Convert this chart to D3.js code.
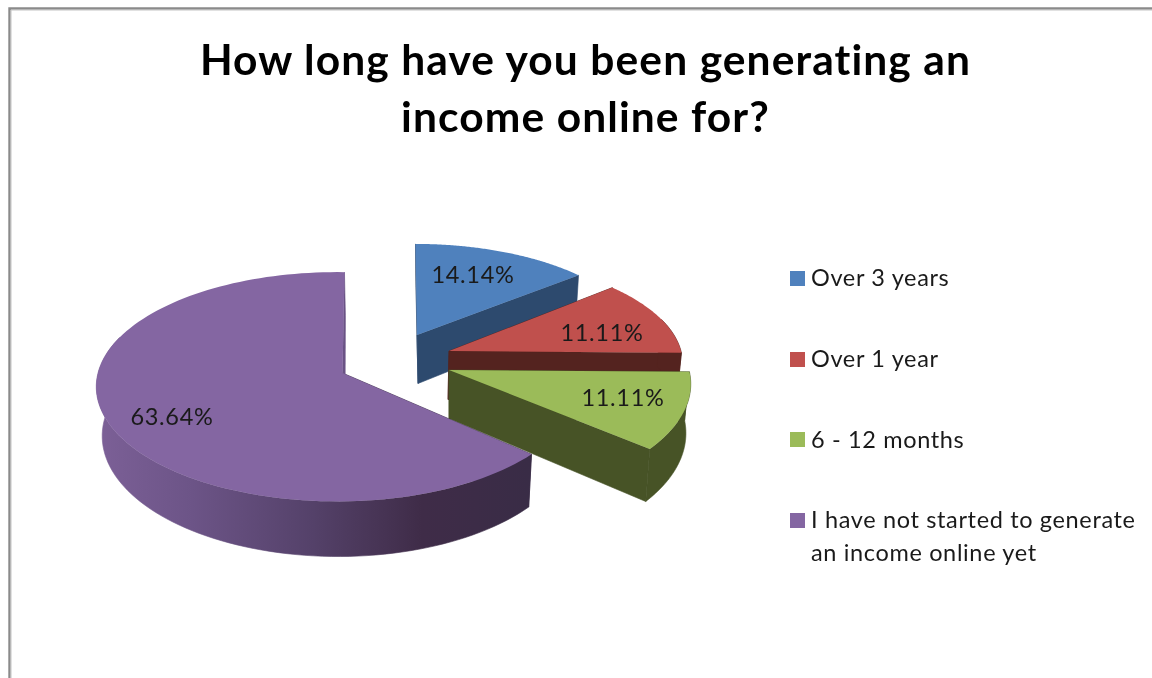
<!DOCTYPE html>
<html><head><meta charset="utf-8">
<script src="https://d3js.org/d3.v7.min.js"></script>
<style>html,body{margin:0;padding:0;background:#fff}svg{display:block;filter:blur(0.45px)}text{font-family:Lato,"Open Sans",sans-serif;font-variant-ligatures:none}</style>
</head><body><svg id="c" width="1152" height="678"></svg>
<script>
const titleLines = ["How long have you been generating an", "income online for?"];
const categories = ["Over 3 years", "Over 1 year", "6 - 12 months", "I have not started to generate\nan income online yet"];
const shares = [14.14, 11.11, 11.11, 63.64];
const shareLabels = ["14.14%", "11.11%", "11.11%", "63.64%"];

const topColors = ["#4f81bd", "#c0504d", "#9bbb59", "#8466a2"];
const wallColors = ["#2d4a6e", "#54231f", "#475326", "#3a2c48"];
const tips = [[417,335],[449,351],[449,370],[342.5,373]];
const rx = [226,232,240,239], ry = [102,105,115,113];
const rimDx = [-1.5,0,0,-5.5];
const rimRotStart = [0,-1.5,0,0.6], rimRotEnd = [0,0,-1.5,2];
const tipWallDx = [1,-1,0,2.5];
const labelPos = [[473,283],[602,341],[623,406],[172,425]];
const legendSwatchY = [271,352,432,513];
const legendBaseY = [286,367,448,528];
const k = 0.12, depth = 48.5;

const svg = d3.select("#c");
const rad = Math.PI/180;
const pieGen = d3.pie().sort(null).startAngle(0).endAngle(2*Math.PI);
const arcs = pieGen(shares);

const defs = svg.append("defs");
const grad = defs.append("linearGradient").attr("id","purpleSide")
  .attr("gradientUnits","userSpaceOnUse").attr("x1",97).attr("x2",530).attr("y1",0).attr("y2",0);
[[0,"#7c6097"],[0.22,"#6c5487"],[0.5,"#544169"],[0.75,"#3f2c48"],[1,"#392c46"]]
  .forEach(s=>grad.append("stop").attr("offset",s[0]).attr("stop-color",s[1]));

function rimTop(i,a){
  const s=arcs[i],f=(a-s.startAngle)/(s.endAngle-s.startAngle);
  const t=a+(rimRotStart[i]+(rimRotEnd[i]-rimRotStart[i])*f)*rad,u=Math.sin(t),v=-Math.cos(t),d=1-k*v;
  return {x:tips[i][0]+rimDx[i]+rx[i]*u/d, y:tips[i][1]+ry[i]*v/d, d};
}
function rimBottom(i,a){
  const p=rimTop(i,a);
  return {x:tips[i][0]+(p.x-tips[i][0])*0.98+tipWallDx[i]*0.4, y:p.y+depth/p.d};
}
const samples=(a0,a1)=>d3.range(0,121).map(j=>a0+(a1-a0)*j/120);
const line=d3.line().x(p=>p.x).y(p=>p.y);
const tipPt=i=>({x:tips[i][0],y:tips[i][1]});
const tipBot=i=>({x:tips[i][0]+tipWallDx[i],y:tips[i][1]+depth});

const g=svg.append("g");
arcs.forEach((s,i)=>{
  const cg=g.append("g");
  const fillSide=i===3?"url(#purpleSide)":wallColors[i];
  [s.startAngle,s.endAngle].forEach(a=>{
    const pts=[tipPt(i),rimTop(i,a),rimBottom(i,a),tipBot(i)];
    const col=(i===3&&a===s.endAngle)?"#6a5285":wallColors[i];
    cg.append("path").attr("d",line(pts)+"Z").attr("fill",col).attr("stroke",col).attr("stroke-width",0.6);
  });
  const arcAngles=samples(s.startAngle,s.endAngle);
  const front=arcAngles.filter(a=>Math.cos(a)<0.3);
  if(front.length>1){
    const rimPts=front.map(a=>rimTop(i,a)).concat(front.slice().reverse().map(a=>rimBottom(i,a)));
    cg.append("path").attr("d",line(rimPts)+"Z").attr("fill",fillSide).attr("stroke",fillSide).attr("stroke-width",0.6);
  }
  const topPts=[tipPt(i)].concat(arcAngles.map(a=>rimTop(i,a)));
  cg.append("path").attr("d",line(topPts)+"Z").attr("fill",topColors[i]);
});

svg.append("g").selectAll("text").data(shareLabels).join("text")
  .attr("x",(d,i)=>labelPos[i][0]).attr("y",(d,i)=>labelPos[i][1])
  .attr("text-anchor","middle").attr("font-size",23.5).attr("letter-spacing",0.7).attr("fill","#1a1a1a").text(d=>d);

svg.append("g").selectAll("text").data(titleLines).join("text")
  .attr("x",585.5).attr("y",(d,i)=>75+i*57)
  .attr("text-anchor","middle").attr("font-size",42.5).attr("letter-spacing",1.1).attr("font-weight",700).attr("fill","#000").text(d=>d);

const leg=svg.append("g");
categories.forEach((c,i)=>{
  leg.append("rect").attr("x",790).attr("y",legendSwatchY[i]).attr("width",15).attr("height",15).attr("fill",topColors[i]);
  c.split("\n").forEach((t,j)=>{
    leg.append("text").attr("x",811).attr("y",legendBaseY[i]+j*32.5)
      .attr("font-size",23.5).attr("letter-spacing",0.65).attr("fill","#1a1a1a").text(t);
  });
});

svg.append("path").attr("d","M9.5,678V8.5H1152").attr("fill","none").attr("stroke","#8a8a8a").attr("stroke-width",2.4);
svg.append("path").attr("d","M11,678V10H1152").attr("fill","none").attr("stroke","#c4c4c4").attr("stroke-width",1);
</script></body></html>
